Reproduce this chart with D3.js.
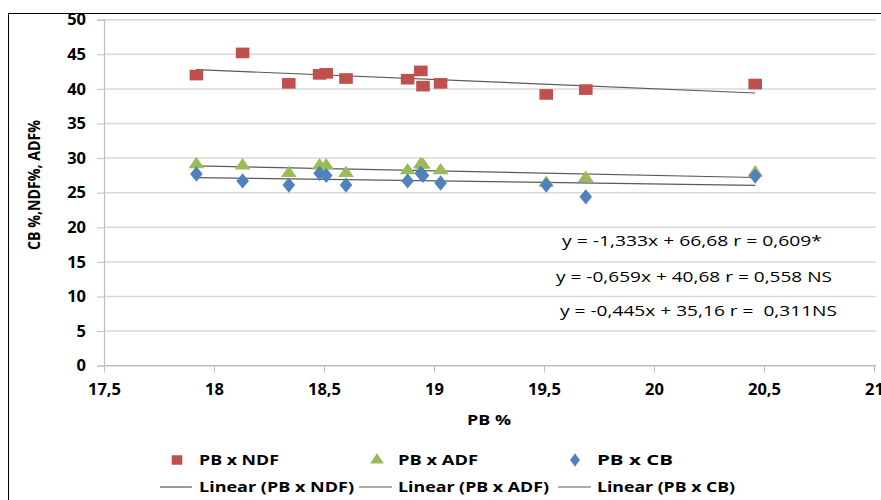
<!DOCTYPE html>
<html><head><meta charset="utf-8">
<script src="https://cdn.jsdelivr.net/npm/d3@7"></script>
<style>
html,body{margin:0;padding:0;background:#fff;}
svg{display:block;}
text{font-family:"Open Sans",Lato,sans-serif;}
</style></head>
<body>
<svg id="c" width="881" height="500"></svg>
<script>
// ---- data ----
const pb = [17.92, 18.13, 18.34, 18.48, 18.51, 18.60, 18.88, 18.94, 18.95, 19.03, 19.51, 19.69, 20.46];
const ndf = [42.0, 45.2, 40.8, 42.1, 42.25, 41.5, 41.4, 42.6, 40.4, 40.8, 39.2, 39.9, 40.7];
const adf = [29.1, 28.9, 27.8, 28.9, 28.9, 27.8, 28.2, 29.1, 29.0, 28.2, 26.4, 27.1, 27.9];
const cb  = [27.7, 26.7, 26.1, 27.8, 27.5, 26.1, 26.7, 27.8, 27.5, 26.4, 26.1, 24.4, 27.4];
const seriesNames = ["PB x NDF", "PB x ADF", "PB x CB"];
const trendNames = ["Linear (PB x NDF)", "Linear (PB x ADF)", "Linear (PB x CB)"];
const slopes = [-1.333, -0.659, -0.445];
const intercepts = [66.68, 40.68, 35.16];
const equations = ["y = -1,333x + 66,68 r = 0,609*", "y = -0,659x + 40,68 r = 0,558 NS", "y = -0,445x + 35,16 r =  0,311NS"];
const xTicks = [17.5, 18, 18.5, 19, 19.5, 20, 20.5, 21];
const yTicks = [0, 5, 10, 15, 20, 25, 30, 35, 40, 45, 50];
const xTitle = "PB %";
const yTitle = "CB %,NDF%, ADF%";
const colors = ["#c0504d", "#9bbb59", "#4f81bd"];

const svg = d3.select("#c");
const x = d3.scaleLinear().domain([17.5, 21]).range([104, 874]);
const y = d3.scaleLinear().domain([0, 50]).range([365.7, 19.7]);
const fmt = v => String(v).replace(".", ",");

// frame
svg.append("rect").attr("x", 8.5).attr("y", 13.5).attr("width", 1000).attr("height", 1000)
  .attr("fill", "none").attr("stroke", "#000").attr("stroke-width", 1);

// gridlines
svg.append("g").selectAll("line").data(yTicks.filter(d => d > 0)).join("line")
  .attr("x1", x(17.5)).attr("x2", 876).attr("y1", d => y(d)).attr("y2", d => y(d))
  .attr("stroke", "#d9d9d9").attr("stroke-width", 1.5);

// y axis
const yAxis = d3.axisLeft(y).tickValues(yTicks).tickSize(7).tickPadding(11).tickFormat(fmt);
const gy = svg.append("g").attr("transform", `translate(${x(17.5)},0)`).call(yAxis);
gy.attr("font-size", null).attr("font-family", null);
gy.select(".domain").attr("stroke", "#bfbfbf").attr("stroke-width", 1.2);
gy.selectAll(".tick line").attr("stroke", "#bfbfbf");
gy.selectAll(".tick text").style("font-size", "16.5px").style("font-weight", "bold").attr("fill", "#000")
  .style("font-family", "'Open Sans',sans-serif");

// x axis
const xAxis = d3.axisBottom(x).tickValues(xTicks).tickSize(7).tickPadding(11).tickFormat(fmt);
const gx = svg.append("g").attr("transform", `translate(0,${y(0)})`).call(xAxis);
gx.attr("font-size", null).attr("font-family", null);
gx.select(".domain").attr("stroke", "#bfbfbf").attr("stroke-width", 1.5).attr("d", `M${x(17.5)},0H876`);
gx.selectAll(".tick line").attr("stroke", "#bfbfbf");
gx.selectAll(".tick text").style("font-size", "16.5px").style("font-weight", "bold").attr("fill", "#000")
  .style("font-family", "'Open Sans',sans-serif");

// trend lines
const xs = d3.extent(pb);
slopes.forEach((m, i) => {
  svg.append("line")
    .attr("x1", x(xs[0])).attr("y1", y(m * xs[0] + intercepts[i]))
    .attr("x2", x(xs[1])).attr("y2", y(m * xs[1] + intercepts[i]))
    .attr("stroke", "#595959").attr("stroke-width", 1.2);
});

// markers
const sq = d3.symbol().type(d3.symbolSquare).size(140);
const tri = d3.symbol().type(d3.symbolTriangle).size(75);
const dia = d3.symbol().type(d3.symbolDiamond).size(75);
const drawSeries = (vals, sym, col, sx, sy) => {
  svg.append("g").selectAll("path").data(vals).join("path")
    .attr("d", sym)
    .attr("transform", (d, i) => `translate(${x(pb[i])},${y(d)}) scale(${sx},${sy})`)
    .attr("fill", col);
};
drawSeries(ndf, sq, colors[0], 1.15, 0.9);
drawSeries(adf, tri, colors[1], 1.2, 1.0);
drawSeries(cb, dia, colors[2], 1.35, 0.95);

// equations
const eqPos = [[562, 246, 260], [556, 282, 276], [560, 316, 277]];
equations.forEach((t, i) => {
  svg.append("text").attr("x", eqPos[i][0]).attr("y", eqPos[i][1])
    .attr("font-size", 14).attr("font-family", "Lato,sans-serif").attr("fill", "#000")
    .attr("textLength", eqPos[i][2]).attr("lengthAdjust", "spacingAndGlyphs")
    .style("white-space", "pre").text(t);
});

// axis titles
svg.append("text").attr("x", 467).attr("y", 425)
  .attr("font-size", 15).attr("font-weight", "bold").attr("font-family", "Lato,sans-serif")
  .attr("textLength", 44).attr("lengthAdjust", "spacingAndGlyphs").text(xTitle);
svg.append("text").attr("transform", "translate(40,185) rotate(-90)").attr("text-anchor", "middle")
  .attr("font-size", 16).attr("font-weight", "bold").attr("font-family", "Lato,sans-serif")
  .attr("textLength", 130).attr("lengthAdjust", "spacingAndGlyphs").text(yTitle);

// legend
const legX = [177, 377, 575];
const legTextX = [199, 398, 597];
const legTextW = [80, 80, 76];
const syms = [sq, tri, dia];
const symScale = [[0.9, 0.8], [1.05, 0.9], [1.05, 0.85]];
seriesNames.forEach((n, i) => {
  svg.append("path").attr("d", syms[i])
    .attr("transform", `translate(${legX[i]},${460}) scale(${symScale[i][0]},${symScale[i][1]})`)
    .attr("fill", colors[i]);
  svg.append("text").attr("x", legTextX[i]).attr("y", 465).attr("font-size", 14)
    .attr("font-weight", "bold").attr("font-family", "Lato,sans-serif")
    .attr("textLength", legTextW[i]).attr("lengthAdjust", "spacingAndGlyphs").text(n);
});
const lineX = [[160, 192], [359, 392], [558, 591]];
const trendTextX = [199, 398, 597];
const trendTextW = [155, 151, 138];
trendNames.forEach((n, i) => {
  svg.append("line").attr("x1", lineX[i][0]).attr("x2", lineX[i][1]).attr("y1", 487).attr("y2", 487)
    .attr("stroke", "#595959").attr("stroke-width", 1.2);
  svg.append("text").attr("x", trendTextX[i]).attr("y", 492).attr("font-size", 14)
    .attr("font-weight", "bold").attr("font-family", "Lato,sans-serif")
    .attr("textLength", trendTextW[i]).attr("lengthAdjust", "spacingAndGlyphs").text(n);
});
</script>
</body></html>
